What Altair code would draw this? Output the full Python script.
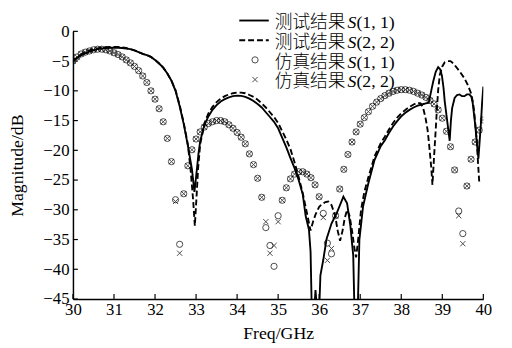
import altair as alt
import pandas as pd

# ---------------- data ----------------
sim_freq = [30.0, 30.1, 30.2, 30.3, 30.4, 30.5, 30.6, 30.7, 30.8, 30.9,
            31.0, 31.1, 31.2, 31.3, 31.4, 31.5, 31.6, 31.7, 31.8, 31.9,
            32.0, 32.1, 32.2, 32.3, 32.4, 32.5, 32.6, 32.7, 32.8, 32.9,
            33.0, 33.1, 33.2, 33.3, 33.4, 33.5, 33.6, 33.7, 33.8, 33.9,
            34.0, 34.1, 34.2, 34.3, 34.4, 34.5, 34.6, 34.7, 34.8, 34.9,
            35.0, 35.1, 35.2, 35.3, 35.4, 35.5, 35.6, 35.7, 35.8, 35.9,
            36.0, 36.1, 36.2, 36.3, 36.4, 36.5, 36.6, 36.7, 36.8, 36.9,
            37.0, 37.1, 37.2, 37.3, 37.4, 37.5, 37.6, 37.7, 37.8, 37.9,
            38.0, 38.1, 38.2, 38.3, 38.4, 38.5, 38.6, 38.7, 38.8, 38.9,
            39.0, 39.1, 39.2, 39.3, 39.4, 39.5, 39.6, 39.7, 39.8, 39.9,
            40.0]
sim_s11 = [-5.0, -4.3, -3.8, -3.5, -3.3, -3.1, -3.0, -3.0, -3.1, -3.3,
           -3.6, -3.9, -4.3, -4.8, -5.3, -5.9, -6.6, -7.5, -8.6, -10.0,
           -11.4, -13.0, -15.2, -18.0, -21.9, -28.3, -35.8, -27.3, -22.6, -19.9,
           -18.1, -16.9, -16.1, -15.5, -15.2, -15.0, -15.0, -15.2, -15.7, -16.3,
           -17.0, -17.8, -18.9, -20.6, -22.4, -24.7, -27.9, -33.0, -36.0, -39.5,
           -31.0, -28.4, -26.3, -24.8, -24.0, -23.6, -23.6, -24.0, -24.6, -25.8,
           -27.8, -30.6, -35.6, -37.4, -31.0, -26.5, -23.2, -20.7, -18.6, -16.9,
           -15.6, -14.5, -13.5, -12.6, -11.9, -11.3, -10.8, -10.4, -10.1, -9.9,
           -9.8, -9.8, -9.9, -10.1, -10.4, -10.7, -11.1, -11.6, -12.2, -13.2,
           -14.6, -16.8, -19.4, -23.3, -30.2, -34.0, -26.0, -21.5, -18.6, -16.6,
           -14.9]
sim_s22 = [-5.0, -4.3, -3.8, -3.5, -3.3, -3.1, -3.0, -3.0, -3.1, -3.3,
           -3.6, -3.9, -4.3, -4.8, -5.3, -5.9, -6.6, -7.5, -8.6, -10.0,
           -11.4, -13.0, -15.2, -18.0, -21.9, -28.6, -37.3, -27.3, -22.6, -19.9,
           -18.1, -16.9, -16.1, -15.5, -15.2, -15.0, -15.0, -15.2, -15.7, -16.3,
           -17.0, -17.8, -18.9, -20.6, -22.4, -24.7, -27.9, -32.0, -37.3, -36.0,
           -32.0, -28.4, -26.3, -24.8, -24.0, -23.6, -23.6, -24.0, -24.6, -25.8,
           -27.8, -31.3, -38.5, -36.5, -31.0, -26.5, -23.2, -20.7, -18.6, -16.9,
           -15.6, -14.5, -13.5, -12.6, -11.9, -11.3, -10.8, -10.4, -10.1, -9.9,
           -9.8, -9.8, -9.9, -10.1, -10.4, -10.7, -11.1, -11.6, -12.2, -13.2,
           -14.6, -16.8, -19.4, -23.3, -31.0, -35.7, -26.0, -21.5, -18.6, -16.6,
           -14.9]

meas_s11_freq = [30.0, 30.1, 30.2, 30.3, 30.4, 30.5, 30.6, 30.7, 30.8, 30.9,
                 31.0, 31.1, 31.2, 31.3, 31.4, 31.5, 31.6, 31.7, 31.8, 31.9,
                 32.0, 32.1, 32.2, 32.3, 32.4, 32.5, 32.6, 32.7, 32.8, 32.9,
                 32.96, 33.0, 33.06, 33.1, 33.2, 33.3, 33.4, 33.5, 33.6, 33.7,
                 33.8, 33.9, 34.0, 34.1, 34.2, 34.3, 34.4, 34.5, 34.6, 34.7,
                 34.8, 34.9, 35.0, 35.1, 35.2, 35.3, 35.4, 35.5, 35.6, 35.67,
                 35.75, 35.79, 35.82, 35.88, 35.91, 35.95, 36.0, 36.03, 36.1, 36.18,
                 36.3, 36.43, 36.59, 36.68, 36.76, 36.83, 36.86, 36.94, 36.98, 37.07,
                 37.2, 37.35, 37.5, 37.6, 37.7, 37.8, 37.9, 38.0, 38.1, 38.2,
                 38.3, 38.4, 38.5, 38.6, 38.67, 38.73, 38.78, 38.84, 38.9, 38.95,
                 38.99, 39.03, 39.06, 39.1, 39.14, 39.18, 39.21, 39.24, 39.3, 39.36,
                 39.42, 39.48, 39.54, 39.6, 39.66, 39.71, 39.74, 39.8, 39.86, 39.88,
                 39.91, 39.94, 39.97, 40.0]
meas_s11 = [-5.0, -4.5, -4.0, -3.7, -3.4, -3.2, -3.0, -2.9, -2.8, -2.75,
            -2.75, -2.75, -2.8, -2.9, -3.0, -3.2, -3.5, -3.8, -4.0, -4.3,
            -4.8, -5.4, -6.1, -7.1, -8.3, -10.0, -12.6, -15.6, -19.2, -23.2,
            -27.0, -24.5, -20.5, -18.5, -15.8, -14.3, -13.2, -12.4, -11.8, -11.4,
            -11.1, -10.9, -10.8, -10.85, -11.0, -11.3, -11.7, -12.2, -12.8, -13.6,
            -14.4, -15.2, -16.3, -17.9, -19.5, -21.3, -23.0, -25.0, -27.4, -31.0,
            -33.3, -37.0, -47.0, -47.0, -43.5, -47.0, -47.0, -41.0, -38.4, -34.9,
            -32.3, -30.5, -27.8, -28.9, -32.7, -37.7, -47.0, -47.0, -35.0, -29.4,
            -25.5, -21.6, -19.3, -18.3, -17.1, -16.0, -15.1, -14.3, -13.7, -13.2,
            -12.8, -12.5, -12.3, -12.1, -12.0, -10.0, -8.4, -6.8, -6.0, -6.4,
            -7.4, -9.5, -11.8, -14.0, -16.2, -18.4, -15.0, -12.9, -11.2, -10.7,
            -10.6, -10.9, -10.9, -10.6, -10.6, -11.0, -12.0, -15.6, -20.0, -21.4,
            -18.5, -15.6, -12.0, -9.3]

meas_s22_freq = [30.0, 30.1, 30.2, 30.3, 30.4, 30.5, 30.6, 30.7, 30.8, 30.9,
                 31.0, 31.1, 31.2, 31.3, 31.4, 31.5, 31.6, 31.7, 31.8, 31.9,
                 32.0, 32.1, 32.2, 32.3, 32.4, 32.5, 32.6, 32.7, 32.8, 32.87,
                 32.93, 32.97, 33.01, 33.05, 33.1, 33.2, 33.3, 33.4, 33.5, 33.6,
                 33.7, 33.8, 33.9, 34.0, 34.1, 34.2, 34.3, 34.4, 34.5, 34.6,
                 34.7, 34.8, 34.9, 35.0, 35.1, 35.2, 35.3, 35.4, 35.5, 35.6,
                 35.7, 35.79, 35.85, 35.91, 36.0, 36.06, 36.15, 36.22, 36.3, 36.39,
                 36.45, 36.51, 36.57, 36.62, 36.68, 36.74, 36.8, 36.86, 36.9, 36.95,
                 37.02, 37.1, 37.2, 37.35, 37.5, 37.6, 37.7, 37.8, 37.9, 38.0,
                 38.1, 38.2, 38.3, 38.4, 38.47, 38.53, 38.59, 38.64, 38.67, 38.73,
                 38.76, 38.8, 38.84, 38.87, 38.9, 38.94, 39.0, 39.06, 39.13, 39.2,
                 39.27, 39.34, 39.44, 39.54, 39.62, 39.7, 39.75, 39.78, 39.81, 39.84,
                 39.87, 39.9]
meas_s22 = [-5.0, -4.4, -3.9, -3.5, -3.2, -3.0, -2.85, -2.7, -2.65, -2.6,
            -2.6, -2.6, -2.7, -2.8, -3.0, -3.2, -3.5, -3.8, -4.0, -4.3,
            -4.8, -5.4, -6.1, -7.1, -8.3, -9.9, -12.4, -15.4, -19.0, -23.5,
            -28.5, -32.7, -28.0, -23.0, -19.0, -15.5, -13.8, -12.7, -11.9, -11.3,
            -10.9, -10.6, -10.4, -10.3, -10.3, -10.4, -10.7, -11.0, -11.5, -12.1,
            -12.8, -13.6, -14.4, -15.4, -16.8, -18.2, -19.8, -22.0, -24.5, -27.2,
            -30.5, -33.5, -32.0, -30.8, -29.5, -29.1, -28.7, -28.6, -29.2, -31.0,
            -33.5, -35.2, -33.5, -31.5, -30.0, -31.0, -33.5, -36.5, -38.0, -35.0,
            -30.0, -27.0, -24.5, -21.0, -18.8, -17.7, -16.5, -15.4, -14.5, -13.8,
            -13.2, -12.7, -12.3, -12.0, -12.1, -12.8, -14.5, -16.5, -18.4, -22.8,
            -25.8, -21.0, -16.5, -12.9, -9.8, -7.3, -5.9, -5.2, -5.0, -5.0,
            -5.4, -6.0, -6.9, -7.9, -9.0, -10.4, -12.0, -13.7, -16.0, -18.4,
            -22.0, -25.3]

x_ticks = [30, 31, 32, 33, 34, 35, 36, 37, 38, 39, 40]
y_ticks = [0, -5, -10, -15, -20, -25, -30, -35, -40, -45]
legend_names = ["测试结果", "测试结果", "仿真结果", "仿真结果"]
legend_ports = ["(1, 1)", "(2, 2)", "(1, 1)", "(2, 2)"]

# ---------------- styling ----------------
FONT = "Liberation Serif"
CJK = "Noto Sans CJK SC"
W, H = 417, 272
CROSS = "M-1,-1L1,1M-1,1L1,-1"
CIRCLE_SIZE = 40
CROSS_SIZE = 28

xscale = alt.Scale(domain=[30, 40], nice=False, zero=False)
yscale = alt.Scale(domain=[-45, 0], nice=False, zero=False)

xaxis = alt.Axis(values=x_ticks, ticks=False, tickSize=0, labelPadding=3,
                 labelFlush=False, labelOverlap=False, grid=False,
                 domainColor="black", domainWidth=1.5,
                 labelFont=FONT, labelFontSize=17, labelColor="black",
                 titleFont=FONT, titleFontSize=18, titleFontWeight="normal",
                 titleColor="black", titleX=W / 2, titleY=35,
                 titleBaseline="middle", titleAlign="center")
yaxis = alt.Axis(values=y_ticks, ticks=False, tickSize=0, labelPadding=4,
                 labelFlush=False, labelOverlap=False, grid=False,
                 domainColor="black", domainWidth=1.5,
                 labelFont=FONT, labelFontSize=17, labelColor="black",
                 titleFont=FONT, titleFontSize=18, titleFontWeight="normal",
                 titleColor="black", titleX=-56, titleY=H / 2, titleAngle=270,
                 titleBaseline="middle", titleAlign="center")


def X():
    return alt.X("freq:Q", scale=xscale, axis=xaxis, title="Freq/GHz")


def Y():
    return alt.Y("mag:Q", scale=yscale, axis=yaxis, title="Magnitude/dB")


meas11_df = pd.DataFrame({"freq": meas_s11_freq, "mag": meas_s11})
meas22_df = pd.DataFrame({"freq": meas_s22_freq, "mag": meas_s22})
sim11_df = pd.DataFrame({"freq": sim_freq, "mag": sim_s11})
sim22_df = pd.DataFrame({"freq": sim_freq, "mag": sim_s22})

layers = []
layers.append(alt.Chart(meas11_df).mark_line(color="black", strokeWidth=1.9, clip=True)
              .encode(x=X(), y=Y()))
layers.append(alt.Chart(meas22_df).mark_line(color="black", strokeWidth=1.9, clip=True,
                                             strokeDash=[6, 3])
              .encode(x=X(), y=Y()))
layers.append(alt.Chart(sim11_df).mark_point(shape="circle", filled=False, size=CIRCLE_SIZE,
                                             color="black", strokeWidth=1, clip=True)
              .encode(x=X(), y=Y()))
layers.append(alt.Chart(sim22_df).mark_point(shape=CROSS, filled=False, size=CROSS_SIZE,
                                             color="black", strokeWidth=1, clip=True)
              .encode(x=X(), y=Y()))

# inward axis ticks
layers.append(alt.Chart(pd.DataFrame({"freq": x_ticks})).mark_rule(color="black", strokeWidth=1.2)
              .encode(x=X(), y=alt.value(H), y2=alt.value(H - 5)))
layers.append(alt.Chart(pd.DataFrame({"mag": y_ticks})).mark_rule(color="black", strokeWidth=1.2)
              .encode(y=Y(), x=alt.value(0), x2=alt.value(5)))

# manual legend
one = pd.DataFrame({"k": [0]})
for i in range(4):
    yc = -11 + 20 * i
    if i == 0:
        layers.append(alt.Chart(one).mark_rule(color="black", strokeWidth=1.9)
                      .encode(x=alt.value(169), x2=alt.value(199), y=alt.value(yc)))
    elif i == 1:
        layers.append(alt.Chart(one).mark_rule(color="black", strokeWidth=1.9, strokeDash=[6, 3])
                      .encode(x=alt.value(169), x2=alt.value(199), y=alt.value(yc)))
    elif i == 2:
        layers.append(alt.Chart(one).mark_point(shape="circle", filled=False, size=CIRCLE_SIZE,
                                                color="black", strokeWidth=1)
                      .encode(x=alt.value(185), y=alt.value(yc)))
    else:
        layers.append(alt.Chart(one).mark_point(shape=CROSS, filled=False, size=CROSS_SIZE,
                                                color="black", strokeWidth=1)
                      .encode(x=alt.value(185), y=alt.value(yc)))
    layers.append(alt.Chart(one).mark_text(text=legend_names[i], font=CJK, fontSize=18,
                                           fontWeight=300, color="black",
                                           align="left", baseline="alphabetic")
                  .encode(x=alt.value(205), y=alt.value(yc + 8)))
    layers.append(alt.Chart(one).mark_text(text="S", font=FONT, fontSize=18, fontStyle="italic",
                                           color="black", align="left", baseline="alphabetic")
                  .encode(x=alt.value(279), y=alt.value(yc + 8)))
    layers.append(alt.Chart(one).mark_text(text=legend_ports[i], font=FONT, fontSize=18,
                                           color="black", align="left", baseline="alphabetic")
                  .encode(x=alt.value(288), y=alt.value(yc + 8)))

chart = (alt.layer(*layers)
         .properties(width=W, height=H,
                     autosize=alt.AutoSizeParams(type="none"),
                     padding={"left": 66, "top": 21, "right": 21, "bottom": 45},
                     background="white")
         .configure_view(stroke=None))

chart.save("out.html", embed_options={"renderer": "svg", "actions": False})
